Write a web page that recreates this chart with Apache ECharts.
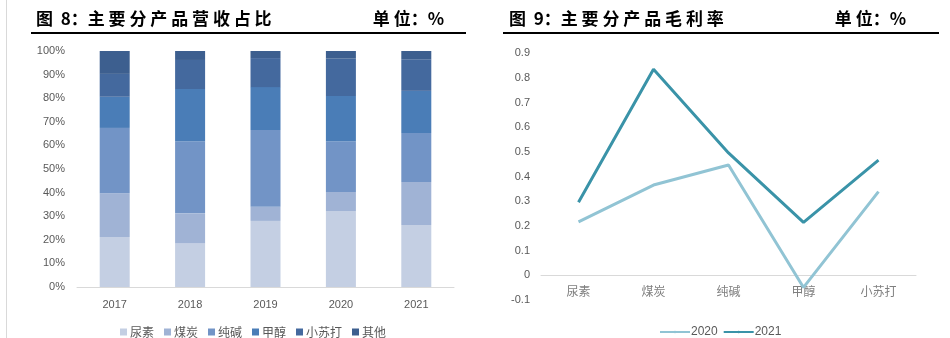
<!DOCTYPE html>
<html>
<head>
<meta charset="utf-8">
<script src="https://cdn.jsdelivr.net/npm/echarts@6/dist/echarts.min.js"></script>
<style>html,body{margin:0;padding:0;background:#fff}#c{width:950px;height:338px}</style>
</head>
<body>
<div id="c"></div>
<script>
// Chart 8 data: revenue share by product (%)
var years = ['2017', '2018', '2019', '2020', '2021'];
var urea = [21.2, 18.5, 28.0, 32.2, 26.3];
var coal = [18.5, 12.7, 6.0, 8.1, 18.2];
var sodaAsh = [27.7, 30.5, 32.5, 21.4, 20.8];
var methanol = [13.2, 22.2, 18.2, 19.2, 17.8];
var bicarb = [9.7, 12.3, 12.3, 15.9, 13.4];
var others = [9.7, 3.8, 3.0, 3.2, 3.5];
var shareNames = ['尿素', '煤炭', '纯碱', '甲醇', '小苏打', '其他'];
var shareTicks = ['0%', '10%', '20%', '30%', '40%', '50%', '60%', '70%', '80%', '90%', '100%'];

// Chart 9 data: gross margin by product
var products = ['尿素', '煤炭', '纯碱', '甲醇', '小苏打'];
var margin2020 = [0.217, 0.366, 0.447, -0.049, 0.339];
var margin2021 = [0.296, 0.835, 0.496, 0.215, 0.467];

var shareColors = ['#c4cfe3', '#a0b3d5', '#7294c6', '#4a7db7', '#44699e', '#3d5f8f'];
var shareData = [urea, coal, sodaAsh, methanol, bicarb, others];

var chart = echarts.init(document.getElementById('c'));
var labelFont = 'Liberation Sans';
var cjk = 'Noto Sans CJK SC';
var titleStyle = { fontFamily: cjk, fontSize: 17, fontWeight: 'bold', color: '#000' };

var series = shareNames.map(function (n, i) {
  return {
    name: n, type: 'bar', stack: 'share', xAxisIndex: 0, yAxisIndex: 0,
    barWidth: 30, data: shareData[i],
    itemStyle: { color: shareColors[i] }
  };
});
series.push({
  name: '2020', type: 'line', xAxisIndex: 1, yAxisIndex: 1, data: margin2020,
  symbol: 'none', lineStyle: { width: 3, color: '#91c4d4' }, itemStyle: { color: '#91c4d4' }
});
series.push({
  name: '2021', type: 'line', xAxisIndex: 1, yAxisIndex: 1, data: margin2021,
  symbol: 'none', lineStyle: { width: 3, color: '#3a93a8' }, itemStyle: { color: '#3a93a8' }
});

chart.setOption({
  animation: false,
  backgroundColor: '#fff',
  title: [
    { text: '图  8：主 要 分 产 品 营 收 占 比', left: 31, top: 5, textStyle: titleStyle },
    { text: '单 位：%', right: 950 - 449, top: 5, textStyle: titleStyle },
    { text: '图  9：主 要 分 产 品 毛 利 率', left: 504, top: 5, textStyle: titleStyle },
    { text: '单 位：%', right: 950 - 911, top: 5, textStyle: titleStyle }
  ],
  graphic: [
    { type: 'line', shape: { x1: 31, y1: 33, x2: 466, y2: 33 }, style: { stroke: '#000', lineWidth: 2 } },
    { type: 'line', shape: { x1: 503, y1: 33, x2: 939, y2: 33 }, style: { stroke: '#000', lineWidth: 2 } },
    { type: 'line', shape: { x1: 6.5, y1: 0, x2: 6.5, y2: 338 }, style: { stroke: '#d9d9d9', lineWidth: 1 } }
  ],
  legend: [
    { data: shareNames, left: 115, top: 321, itemWidth: 7, itemHeight: 7, itemGap: 10, icon: 'rect',
      textStyle: { fontFamily: cjk, fontSize: 12, color: '#595959', padding: [0, 0, 0, -2] } },
    { data: ['2020', '2021'], left: 654, top: 321, itemWidth: 30, itemHeight: 3, itemGap: 5,
      textStyle: { fontFamily: labelFont, fontSize: 12, color: '#595959', padding: [0, 0, 0, -4] } }
  ],
  grid: [
    { left: 77, top: 51, width: 377, height: 236 },
    { left: 541, top: 53.3, width: 375, height: 246.7 }
  ],
  xAxis: [
    { type: 'category', gridIndex: 0, data: years,
      axisLine: { lineStyle: { color: '#d9d9d9' } }, axisTick: { show: false },
      axisLabel: { fontFamily: labelFont, fontSize: 11, color: '#595959', margin: 12 } },
    { type: 'category', gridIndex: 1, data: products, boundaryGap: true, position: 'bottom', offset: -24.67,
      axisLine: { onZero: false, lineStyle: { color: '#d9d9d9' } }, axisTick: { show: false },
      axisLabel: { fontFamily: cjk, fontSize: 12, color: '#7f7f7f', margin: 10 } }
  ],
  yAxis: [
    { type: 'value', gridIndex: 0, min: 0, max: 100, interval: 10,
      axisLine: { show: false }, axisTick: { show: false }, splitLine: { show: false },
      axisLabel: { fontFamily: labelFont, fontSize: 11, color: '#595959', margin: 12,
        formatter: function (v) { return shareTicks[Math.round(v / 10)]; } } },
    { type: 'value', gridIndex: 1, min: -0.1, max: 0.9, interval: 0.1,
      axisLine: { show: false }, axisTick: { show: false }, splitLine: { show: false },
      axisLabel: { fontFamily: labelFont, fontSize: 11, color: '#595959', margin: 11,
        formatter: function (v) { var r = Math.round(v * 10) / 10; return r === 0 ? '0' : String(r); } } }
  ],
  series: series
});
</script>
</body>
</html>
